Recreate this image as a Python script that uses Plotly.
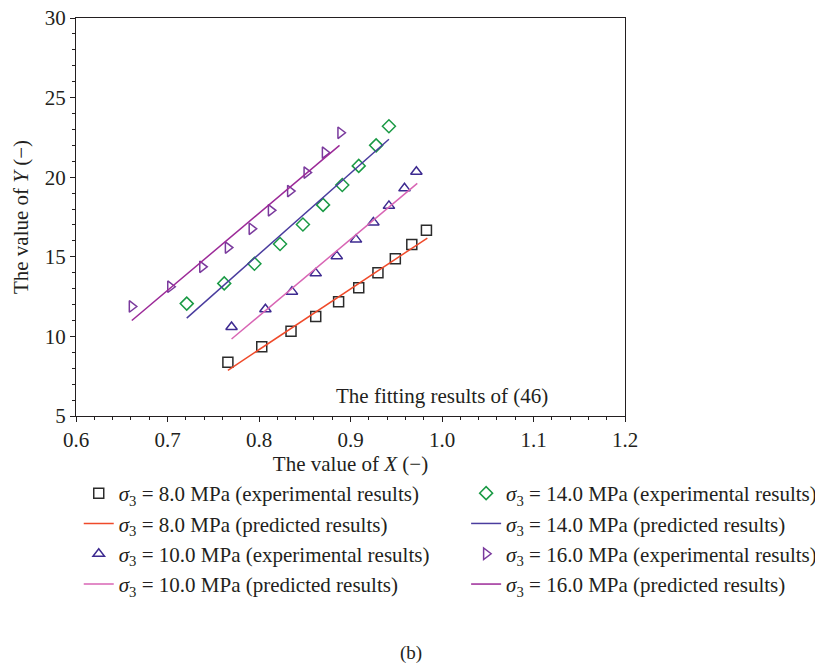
import plotly.graph_objects as go

# ---- data ----
x_8 = [0.766, 0.803, 0.835, 0.862, 0.887, 0.909, 0.930, 0.949, 0.967, 0.983]
y_8 = [8.37, 9.35, 10.32, 11.25, 12.17, 13.06, 14.00, 14.87, 15.77, 16.66]
x_8_fit = [0.766, 0.984]
y_8_fit = [7.87, 16.18]

x_10 = [0.770, 0.807, 0.836, 0.862, 0.885, 0.906, 0.925, 0.942, 0.959, 0.972]
y_10 = [10.59, 11.71, 12.81, 13.96, 15.04, 16.08, 17.16, 18.20, 19.30, 20.34]
x_10_fit = [0.770, 0.973]
y_10_fit = [9.84, 19.61]

x_14 = [0.721, 0.762, 0.795, 0.823, 0.848, 0.870, 0.891, 0.909, 0.928, 0.942]
y_14 = [12.06, 13.33, 14.56, 15.80, 17.03, 18.26, 19.51, 20.71, 22.00, 23.20]
x_14_fit = [0.721, 0.942]
y_14_fit = [11.15, 22.38]

x_16 = [0.661, 0.703, 0.738, 0.766, 0.792, 0.813, 0.834, 0.852, 0.872, 0.889]
y_16 = [11.88, 13.12, 14.37, 15.58, 16.76, 17.92, 19.13, 20.29, 21.54, 22.79]
x_16_fit = [0.661, 0.888]
y_16_fit = [11.00, 22.00]

x_ticks = [0.6, 0.7, 0.8, 0.9, 1.0, 1.1, 1.2]
x_tick_labels = ["0.6", "0.7", "0.8", "0.9", "1.0", "1.1", "1.2"]
y_ticks = [5, 10, 15, 20, 25, 30]

FONT = "Liberation Serif"
TXT = "#231f20"
FS = 21

def lab(p, kind):
    return f"<i>σ</i><sub>3</sub> = {p} MPa ({kind} results)"

fig = go.Figure()

def add_exp(x, y, sym, color, name, legend, grp):
    fig.add_trace(go.Scatter(
        x=x, y=y, mode="markers", name=name, legend=legend, legendgroup=grp,
        marker=dict(symbol=sym, size=10, color=color,
                    line=dict(color=color, width=1.5)),
    ))

def add_fit(x, y, color, name, legend, grp):
    fig.add_trace(go.Scatter(
        x=x, y=y, mode="lines", name=name, legend=legend, legendgroup=grp,
        line=dict(color=color, width=1.5),
    ))

add_exp(x_8, y_8, "square-open", "#2b2b2b", lab("8.0", "experimental"), "legend", "a")
add_fit(x_8_fit, y_8_fit, "#ef4a2a", lab("8.0", "predicted"), "legend", "b")
add_exp(x_10, y_10, "triangle-up-open", "#3d2a90", lab("10.0", "experimental"), "legend", "c")
add_fit(x_10_fit, y_10_fit, "#d865b4", lab("10.0", "predicted"), "legend", "d")
add_exp(x_14, y_14, "diamond-open", "#1a9a45", lab("14.0", "experimental"), "legend2", "e")
add_fit(x_14_fit, y_14_fit, "#4a3c9e", lab("14.0", "predicted"), "legend2", "f")
add_exp(x_16, y_16, "triangle-right-open", "#7a3a9d", lab("16.0", "experimental"), "legend2", "g")
add_fit(x_16_fit, y_16_fit, "#9c2a98", lab("16.0", "predicted"), "legend2", "h")

leg_common = dict(
    font=dict(family=FONT, size=FS, color=TXT),
    bgcolor="rgba(0,0,0,0)", traceorder="grouped", tracegroupgap=0,
    yanchor="top", xanchor="left", orientation="v",
)

PLOT_H = 398
fig.update_layout(
    width=815, height=659,
    margin=dict(l=68, r=198, t=10, b=251, autoexpand=False),
    paper_bgcolor="white", plot_bgcolor="white",
    font=dict(family=FONT, size=FS, color=TXT),
    showlegend=True,
    legend=dict(x=0.005, y=-57 / PLOT_H, **leg_common),
    legend2=dict(x=0.7106, y=-57 / PLOT_H, **leg_common),
    xaxis=dict(
        range=[0.6, 1.2], tickvals=x_ticks, ticktext=x_tick_labels,
        showgrid=False, zeroline=False, automargin=False, ticklabeloverflow="allow",
        showline=True, linecolor="#231f20", linewidth=1, mirror=True,
        ticks="outside", ticklen=5, tickwidth=1, tickcolor="#231f20",
        minor=dict(dtick=0.02, ticks="outside", ticklen=3, tickcolor="#231f20", showgrid=False),
        tickfont=dict(family=FONT, size=FS, color=TXT),
        title=dict(text="The value of <i>X</i> (−)", font=dict(family=FONT, size=FS, color=TXT), standoff=5),
    ),
    yaxis=dict(
        range=[5, 30], tickvals=y_ticks,
        showgrid=False, zeroline=False, automargin=False, ticklabeloverflow="allow",
        showline=True, linecolor="#231f20", linewidth=1, mirror=True,
        ticks="outside", ticklen=5, tickwidth=1, tickcolor="#231f20",
        minor=dict(dtick=1, ticks="outside", ticklen=3, tickcolor="#231f20", showgrid=False),
        tickfont=dict(family=FONT, size=FS, color=TXT),
        title=dict(text="The value of <i>Y</i> (−)", font=dict(family=FONT, size=FS, color=TXT), standoff=10),
    ),
    annotations=[
        dict(x=1.0, y=6.25, xref="x", yref="y", text="The fitting results of (46)",
             showarrow=False, font=dict(family=FONT, size=FS, color=TXT)),
        dict(x=335 / 549, y=-237 / PLOT_H, xref="paper", yref="paper",
             text="(b)", showarrow=False, yanchor="middle",
             font=dict(family=FONT, size=19, color=TXT)),
    ],
)

fig.write_html("out.html")
